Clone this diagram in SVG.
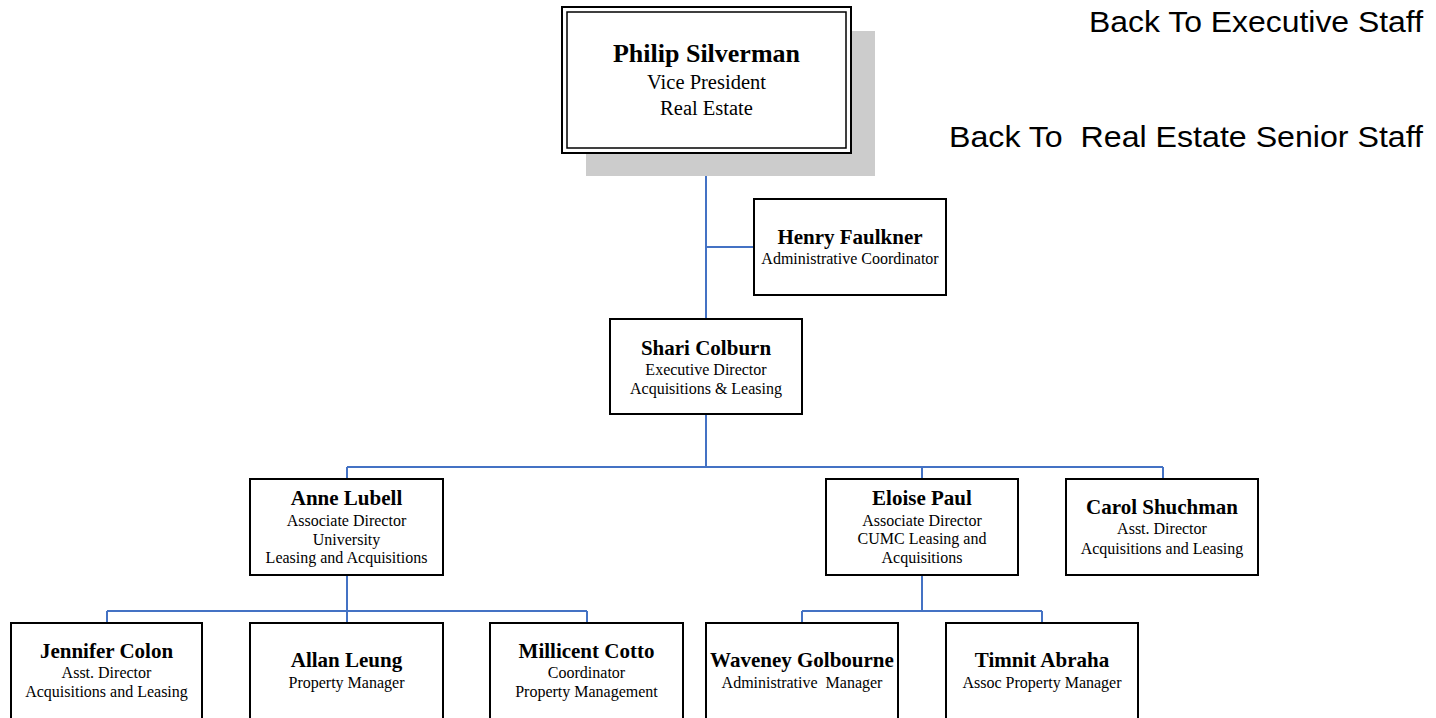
<svg xmlns="http://www.w3.org/2000/svg" width="1436" height="718" viewBox="0 0 1436 718">
<style>
.box{fill:#fff;stroke:#000;stroke-width:2}
.nm{font-family:"Liberation Serif","Times New Roman",serif;font-weight:bold;font-size:21px;text-anchor:middle;fill:#000}
.sub{font-family:"Liberation Serif","Times New Roman",serif;font-size:16px;text-anchor:middle;fill:#000}
.link{font-family:"Liberation Sans",Arial,sans-serif;font-size:29px;text-anchor:end;fill:#000}
.con{fill:none;stroke:#4472C4;stroke-width:2}
</style>
<rect width="1436" height="718" fill="#fff"/>
<g id="connectors">
<path class="con" d="M706 153V319M706 247H754M706 414V467M347 467H1163M347 467V479M922 467V479M1163 467V479"/>
<path class="con" d="M347 575V611M107 611H587M107 611V623M347 611V623M587 611V623"/>
<path class="con" d="M922 575V611M802 611H1042M802 611V623M1042 611V623"/>
</g>
<g id="philip">
<rect x="586" y="31" width="289" height="145" fill="#cccccc"/>
<rect x="562" y="7" width="289" height="146" fill="#fff" stroke="#000" stroke-width="2"/>
<rect x="567" y="12" width="279" height="136" fill="none" stroke="#000" stroke-width="1.5"/>
<text x="706.5" y="62" class="nm" style="font-size:26px">Philip Silverman</text>
<text x="706.5" y="89" class="sub" style="font-size:20.5px">Vice President</text>
<text x="706.5" y="115" class="sub" style="font-size:20.5px">Real Estate</text>
</g>
<g id="henry">
<rect class="box" x="754" y="199" width="192" height="96"/>
<text x="850" y="244" class="nm">Henry Faulkner</text>
<text x="850" y="264" class="sub">Administrative Coordinator</text>
</g>
<g id="shari">
<rect class="box" x="610" y="319" width="192" height="95"/>
<text x="706" y="355" class="nm">Shari Colburn</text>
<text x="706" y="375" class="sub">Executive Director</text>
<text x="706" y="394" class="sub">Acquisitions &amp; Leasing</text>
</g>
<g id="anne">
<rect class="box" x="250" y="479" width="193" height="96"/>
<text x="346.5" y="505" class="nm">Anne Lubell</text>
<text x="346.5" y="526" class="sub">Associate Director</text>
<text x="346.5" y="545" class="sub">University</text>
<text x="346.5" y="563" class="sub">Leasing and Acquisitions</text>
</g>
<g id="eloise">
<rect class="box" x="826" y="479" width="192" height="96"/>
<text x="922" y="505" class="nm">Eloise Paul</text>
<text x="922" y="526" class="sub">Associate Director</text>
<text x="922" y="544" class="sub">CUMC Leasing and</text>
<text x="922" y="563" class="sub">Acquisitions</text>
</g>
<g id="carol">
<rect class="box" x="1066" y="479" width="192" height="96"/>
<text x="1162" y="514" class="nm">Carol Shuchman</text>
<text x="1162" y="534" class="sub">Asst. Director</text>
<text x="1162" y="554" class="sub">Acquisitions and Leasing</text>
</g>
<g id="jennifer">
<rect class="box" x="11" y="623" width="191" height="100"/>
<text x="106.5" y="658" class="nm">Jennifer Colon</text>
<text x="106.5" y="678" class="sub">Asst. Director</text>
<text x="106.5" y="697" class="sub">Acquisitions and Leasing</text>
</g>
<g id="allan">
<rect class="box" x="250" y="623" width="193" height="100"/>
<text x="346.5" y="667" class="nm">Allan Leung</text>
<text x="346.5" y="688" class="sub">Property Manager</text>
</g>
<g id="millicent">
<rect class="box" x="490" y="623" width="193" height="100"/>
<text x="586.5" y="658" class="nm">Millicent Cotto</text>
<text x="586.5" y="678" class="sub">Coordinator</text>
<text x="586.5" y="697" class="sub">Property Management</text>
</g>
<g id="waveney">
<rect class="box" x="706" y="623" width="192" height="100"/>
<text x="802" y="667" class="nm">Waveney Golbourne</text>
<text x="802" y="688" class="sub" xml:space="preserve">Administrative  Manager</text>
</g>
<g id="timnit">
<rect class="box" x="946" y="623" width="192" height="100"/>
<text x="1042" y="667" class="nm">Timnit Abraha</text>
<text x="1042" y="688" class="sub">Assoc Property Manager</text>
</g>
<g id="links">
<text x="1423" y="32" class="link" textLength="334" lengthAdjust="spacingAndGlyphs">Back To Executive Staff</text>
<text x="1423" y="147" class="link" textLength="474" lengthAdjust="spacingAndGlyphs" xml:space="preserve">Back To  Real Estate Senior Staff</text>
</g>
</svg>
